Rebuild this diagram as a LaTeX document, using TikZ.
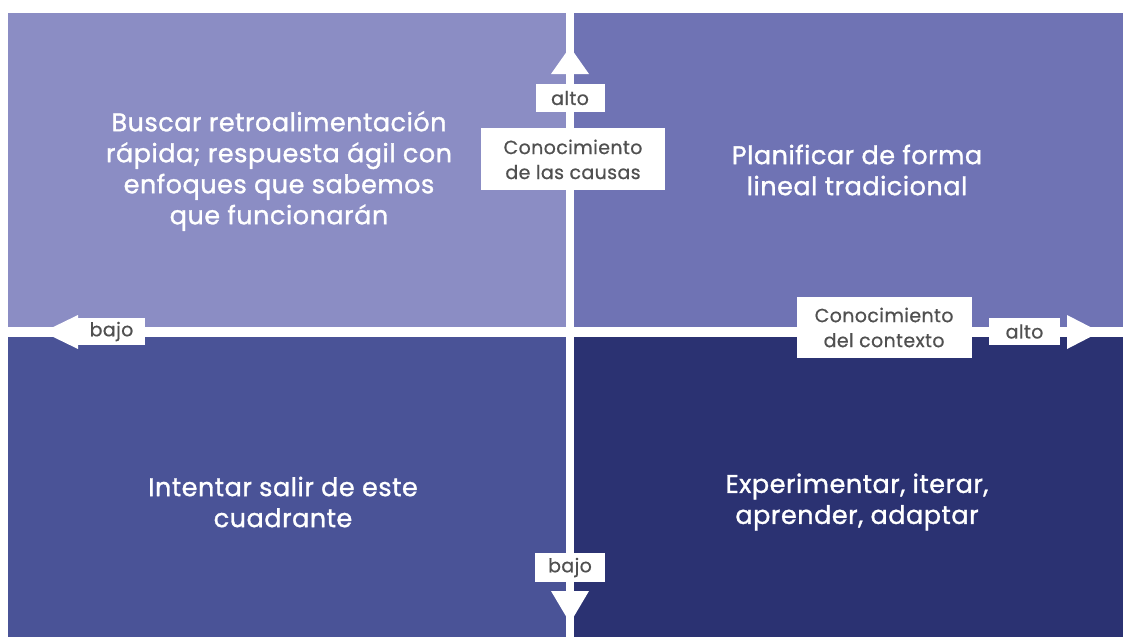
\documentclass[tikz,border=0pt]{standalone}
\usepackage{fontspec}
\setmainfont{Poppins}
\newfontfamily\quadfont{Poppins}[FakeBold=1.2,LetterSpace=2]
\newfontfamily\axisfont{Poppins}[FakeBold=0.6,LetterSpace=2]
\usetikzlibrary{positioning}
\definecolor{quadA}{RGB}{139,141,196}
\definecolor{quadB}{RGB}{111,115,180}
\definecolor{quadC}{RGB}{74,83,151}
\definecolor{quadD}{RGB}{43,50,114}
\definecolor{axisgray}{RGB}{80,80,80}

\begin{document}
\begin{tikzpicture}[x=1pt,y=-1pt,
    quadtext/.style={text=white,align=center,font=\quadfont\fontsize{25.5}{31}\selectfont},
    axisbox/.style={fill=white,text=axisgray,inner sep=0pt,align=center,font=\axisfont\fontsize{19}{25}\selectfont}]
    \useasboundingbox[fill=white] (0,0) rectangle (1123,637);
    % cuadrantes
    \fill[quadA] (8,13) rectangle (566,327);
    \fill[quadB] (574,13) rectangle (1123,327);
    \fill[quadC] (8,337) rectangle (566,637);
    \fill[quadD] (574,337) rectangle (1123,637);
    % puntas de los ejes
    \fill[white] (570,47) -- (551,74) -- (589,74) -- cycle;
    \fill[white] (570,623) -- (551,591) -- (589,591) -- cycle;
    \fill[white] (43,332) -- (78,315) -- (78,349) -- cycle;
    \fill[white] (1100,332) -- (1067,315) -- (1067,349) -- cycle;
    % etiquetas de los ejes
    \node[axisbox,minimum width=69,minimum height=28] (altoV) at (570,98) {alto};
    \node[axisbox,minimum width=184,minimum height=62,below=16pt of altoV,xshift=3pt] (causas) {Conocimiento\\de las causas};
    \node[axisbox,minimum width=70,minimum height=29] (bajoV) at (570,567.5) {bajo};
    \node[axisbox,minimum width=67,minimum height=27] (bajoH) at (111.5,331.5) {bajo};
    \node[axisbox,minimum width=71,minimum height=27] (altoH) at (1024.5,331.5) {alto};
    \node[axisbox,minimum width=175,minimum height=61,left=17pt of altoH,yshift=4pt] (contexto) {Conocimiento\\del contexto};
    % textos de los cuadrantes
    \node[quadtext] (rapida) at (279,171) {Buscar retroalimentación\\rápida; respuesta ágil con\\enfoques que sabemos\\que funcionarán};
    \node[quadtext] (lineal) at (857,170) {Planificar de forma\\lineal tradicional};
    \node[quadtext] (salir) at (283,502) {Intentar salir de este\\cuadrante};
    \node[quadtext] (iterar) at (857,502) {Experimentar, iterar,\\aprender, adaptar};
\end{tikzpicture}
\end{document}
